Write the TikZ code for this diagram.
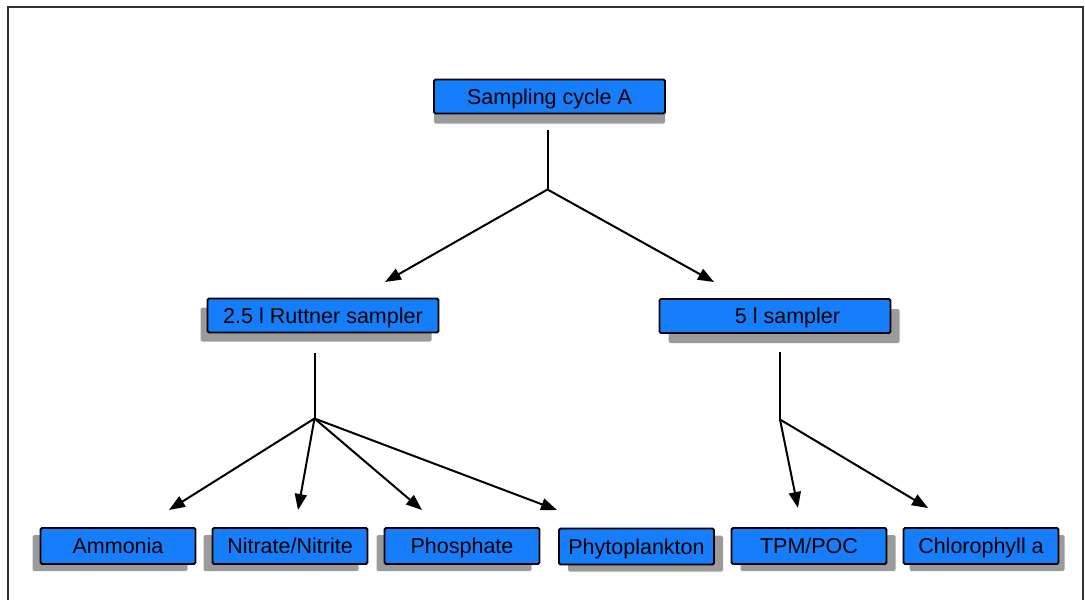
\documentclass[tikz,border=0pt]{standalone}
\usepackage{fontspec}
\setmainfont{Liberation Sans}
\usetikzlibrary{shadows,arrows.meta}
\definecolor{boxblue}{RGB}{22,126,250}
\definecolor{shgray}{RGB}{155,155,155}
\definecolor{framegray}{RGB}{50,50,50}
\tikzset{
  bluebox/.style={draw=black, fill=boxblue, line width=1.8pt, rounded corners=1.5pt,
    inner sep=0pt, font=\fontsize{21.5}{25}\selectfont, text=black,
    text height=15.4pt, text depth=0pt},
  wide/.style={minimum width=231pt, minimum height=34pt},
  narrow/.style={minimum width=155pt, minimum height=36pt},
  shad/.style 2 args={general shadow={shadow xshift=#1pt, shadow yshift=-#2pt, fill=shgray, draw=none, rounded corners=0pt}},
  conn/.style={line width=2pt, black},
  arr/.style={conn, -{Triangle[length=16pt,width=12pt]}}
}
\begin{document}
\begin{tikzpicture}[x=1pt,y=-1pt]
\useasboundingbox (0,0) rectangle (1085,600);
\draw[framegray, line width=1.6pt] (8,610) -- (8,7) -- (1083,7) -- (1083,610);

\node[bluebox, wide, shad={0}{10}] (A) at (549.5,96.5) {Sampling cycle A};
\node[bluebox, wide, shad={-7}{9}] (R) at (323,315.5) {2.5 l Ruttner sampler};
\node[bluebox, wide, shad={9}{10}] (S) at (775,316) {\hspace*{25pt}5 l sampler};

\node[bluebox, narrow, shad={-8}{7}] (am) at (118,546) {Ammonia};
\node[bluebox, narrow, shad={-9}{7}] (ni) at (290,546) {Nitrate/Nitrite};
\node[bluebox, narrow, shad={-8}{7}] (ph) at (462,546) {Phosphate};
\node[bluebox, narrow, shad={9}{7}] (py) at (636.5,546.5) {Phytoplankton};
\node[bluebox, narrow, shad={9}{7}] (tp) at (809,546) {TPM/POC};
\node[bluebox, narrow, shad={6}{7}] (ch) at (981,546) {Chlorophyll a};

\coordinate (a0) at (547.5,130);
\coordinate (j1) at (547.5,189.5);
\coordinate (e1) at (385,282);
\coordinate (e2) at (714,282);

\coordinate (r0) at (314.5,353);
\coordinate (j2) at (314.5,418.5);
\coordinate (e3) at (169,510);
\coordinate (e4) at (298,510);
\coordinate (e5) at (422,510);
\coordinate (e6) at (557,510);

\coordinate (s0) at (780,352);
\coordinate (j3) at (780,419.5);
\coordinate (e7) at (798,508);
\coordinate (e8) at (928,508);

\draw[conn] (a0) -- (j1);
\draw[arr] (j1) -- (e1);
\draw[arr] (j1) -- (e2);

\draw[conn] (r0) -- (j2);
\draw[arr] (j2) -- (e3);
\draw[arr] (j2) -- (e4);
\draw[arr] (j2) -- (e5);
\draw[arr] (j2) -- (e6);

\draw[conn] (s0) -- (j3);
\draw[arr] (j3) -- (e7);
\draw[arr] (j3) -- (e8);
\end{tikzpicture}
\end{document}
